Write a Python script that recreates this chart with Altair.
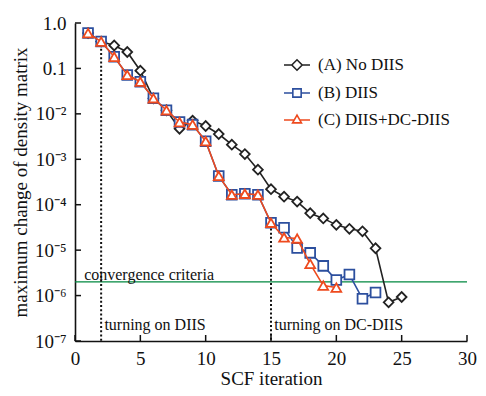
import json
import altair as alt
import pandas as pd

# ---------------- data ----------------
iter_a = list(range(1, 26))
err_a = [0.60, 0.39, 0.32, 0.23, 0.089, 0.022, 0.012, 0.0047, 0.0071, 0.0054,
         0.0036, 0.0021, 0.0013, 0.00059, 0.00022, 0.00015, 0.000117, 6.5e-5,
         5.0e-5, 3.6e-5, 2.95e-5, 2.6e-5, 1.1e-5, 7.1e-7, 9.3e-7]
iter_b = list(range(1, 24))
err_b = [0.60, 0.39, 0.18, 0.072, 0.051, 0.022, 0.012, 0.0066, 0.0058, 0.0025,
         0.00043, 0.000166, 0.000174, 0.000166, 4.0e-5, 3.1e-5, 1.12e-5, 8.7e-6,
         4.5e-6, 2.2e-6, 2.9e-6, 8.5e-7, 1.17e-6]
iter_c = list(range(1, 21))
err_c = [0.60, 0.39, 0.18, 0.072, 0.051, 0.022, 0.012, 0.0066, 0.0058, 0.0025,
         0.00043, 0.000166, 0.000174, 0.000166, 4.0e-5, 1.9e-5, 1.8e-5, 5.0e-6,
         1.66e-6, 1.5e-6]

series_names = ["(A) No DIIS", "(B) DIIS", "(C) DIIS+DC-DIIS"]
series_colors = ["#222222", "#2c4f9e", "#ee4a1e"]
series_shapes = ["diamond", "square", "triangle-up"]
legend_paths = [
    "M-1,0H-0.4M0.4,0H1M-0.4,0L0,-0.4L0.4,0L0,0.4Z",
    "M-1,0H-0.32M0.32,0H1M-0.32,-0.32H0.32V0.32H-0.32Z",
    "M-1,0H-0.22M0.22,0H1M0,-0.38L0.34,0.22H-0.34Z",
]

x_ticks = [0, 5, 10, 15, 20, 25, 30]
y_ticks = [1e-7, 1e-6, 1e-5, 1e-4, 1e-3, 1e-2, 1e-1, 1.0]
y_tick_labels = ["10⁻⁷", "10⁻⁶", "10⁻⁵", "10⁻⁴", "10⁻³", "10⁻²", "0.1", "1.0"]

conv_value = [2e-6]
turn_x = [2, 15]
turn_top = [0.27, 3e-5]
turn_bottom = [1e-7, 1e-7]

note_text = ["convergence criteria", "turning on DIIS", "turning on DC-DIIS"]
note_x = [0.7, 2.25, 15.25]
note_y = [2.9e-6, 2.3e-7, 2.3e-7]

# ---------------- layout ----------------
W, H = 392, 318
FONT = "Liberation Serif"

xscale = alt.Scale(domain=[0, 30], nice=False, zero=False)
yscale = alt.Scale(type="log", domain=[1e-7, 1], nice=False)

xaxis = alt.Axis(values=x_ticks, tickSize=0, labelPadding=8, grid=False,
                 titlePadding=1, labelFlush=False)
yaxis = alt.Axis(values=y_ticks, tickSize=0, labelPadding=9, grid=False,
                 titlePadding=4,
                 labelExpr=json.dumps(y_tick_labels, ensure_ascii=False)
                 + "[round(log(datum.value)/LN10)+7]")

XT = "SCF iteration"
YT = "maximum change of density matrix"


def X(field="x"):
    return alt.X(f"{field}:Q", scale=xscale, axis=xaxis, title=XT)


def Y(field="y"):
    return alt.Y(f"{field}:Q", scale=yscale, axis=yaxis, title=YT)


layers = []

# convergence line
conv_df = pd.DataFrame({"y": conv_value})
layers.append(alt.Chart(conv_df).mark_rule(color="#00873f", strokeWidth=1.2).encode(
    y=Y(), x=alt.value(0), x2=alt.value(W)))

# turning dotted lines
turn_df = pd.DataFrame({"x": turn_x, "y": turn_top, "y2": turn_bottom})
layers.append(alt.Chart(turn_df).mark_rule(color="#111111", strokeWidth=2,
                                           strokeDash=[2, 2.2]).encode(
    x=X(), y=Y(), y2="y2:Q"))

# series
for xs, ys, col, shp in zip([iter_a, iter_b, iter_c], [err_a, err_b, err_c],
                            series_colors, series_shapes):
    df = pd.DataFrame({"x": xs, "y": ys})
    base = alt.Chart(df)
    layers.append(base.mark_line(color=col, strokeWidth=1.6).encode(x=X(), y=Y()))
    layers.append(base.mark_point(shape=shp, filled=True, fill="white", stroke=col,
                                  strokeWidth=1.8, size=95, opacity=1).encode(x=X(), y=Y()))

# inward ticks
ytick_df = pd.DataFrame({"y": y_ticks})
layers.append(alt.Chart(ytick_df).mark_rule(color="#111111", strokeWidth=1.5).encode(
    y=Y(), x=alt.value(0), x2=alt.value(6)))
xtick_df = pd.DataFrame({"x": x_ticks})
layers.append(alt.Chart(xtick_df).mark_rule(color="#111111", strokeWidth=1.5).encode(
    x=X(), y=alt.value(H), y2=alt.value(H - 6)))

# annotations
note_df = pd.DataFrame({"x": note_x, "y": note_y, "t": note_text})
layers.append(alt.Chart(note_df).mark_text(align="left", baseline="middle", font=FONT,
                                           fontSize=16, color="#111111").encode(
    x=X(), y=Y(), text="t:N"))

# legend layer (no marks drawn)
leg_df = pd.DataFrame({"s": series_names})
layers.append(alt.Chart(leg_df).transform_filter("false").mark_point(
    filled=False, size=676, strokeWidth=1.6, opacity=1).encode(
    color=alt.Color("s:N", scale=alt.Scale(domain=series_names, range=series_colors),
                    title=None,
                    legend=alt.Legend(orient="none", legendX=208, legendY=28,
                                      symbolSize=676, symbolStrokeWidth=1.6,
                                      labelFont=FONT, labelFontSize=17,
                                      labelColor="#111111", labelOffset=7,
                                      rowPadding=5, padding=0, labelLimit=300)),
    shape=alt.Shape("s:N", scale=alt.Scale(domain=series_names, range=legend_paths),
                    title=None)))

chart = alt.layer(*layers).properties(
    width=W, height=H,
    autosize=alt.AutoSizeParams(type="none"),
    padding={"left": 67, "top": 15, "right": 11, "bottom": 47},
).configure_view(stroke=None).configure_axis(
    domainColor="#111111", domainWidth=1.6, labelFont=FONT, titleFont=FONT,
    labelFontSize=19, titleFontSize=19, titleFontWeight="normal",
    labelColor="#111111", titleColor="#111111",
)

chart.save("out.html", embed_options={"renderer": "svg", "actions": False})
